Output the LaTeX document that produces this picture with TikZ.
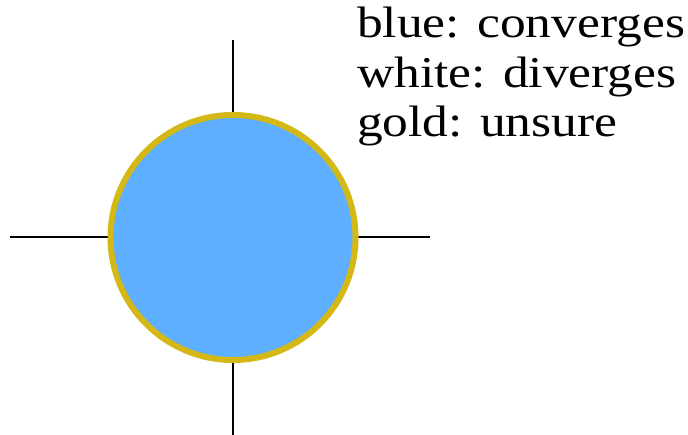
\documentclass[tikz,border=0pt]{standalone}
\usepackage{fontspec}
\setmainfont{Liberation Serif}[FakeStretch=1.17]
\definecolor{fillblue}{HTML}{5EAFFF}
\definecolor{goldring}{HTML}{D4B815}
\begin{document}
\begin{tikzpicture}[x=1pt,y=-1pt,
  axis/.style={line width=1.3pt,black},
  ring/.style={circle,draw=goldring,fill=fillblue,line width=6pt,minimum size=245pt,inner sep=0pt},
  legend/.style={anchor=base west,inner sep=0pt,font=\fontsize{44}{44}\selectfont}]
\useasboundingbox (0,0) rectangle (688,435);
\coordinate (l) at (10,237);
\coordinate (r) at (430,237);
\coordinate (t) at (233,40);
\coordinate (b) at (233,435);
\draw[axis] (l) -- (r);
\draw[axis] (t) -- (b);
\node[ring] (c) at (233,237.5) {};
\node[legend] (t1) at (357,38) {blue: converges};
\node[legend] (t2) at (357,87.5) {white: diverges};
\node[legend] (t3) at (357,137) {gold: unsure};
\end{tikzpicture}
\end{document}
